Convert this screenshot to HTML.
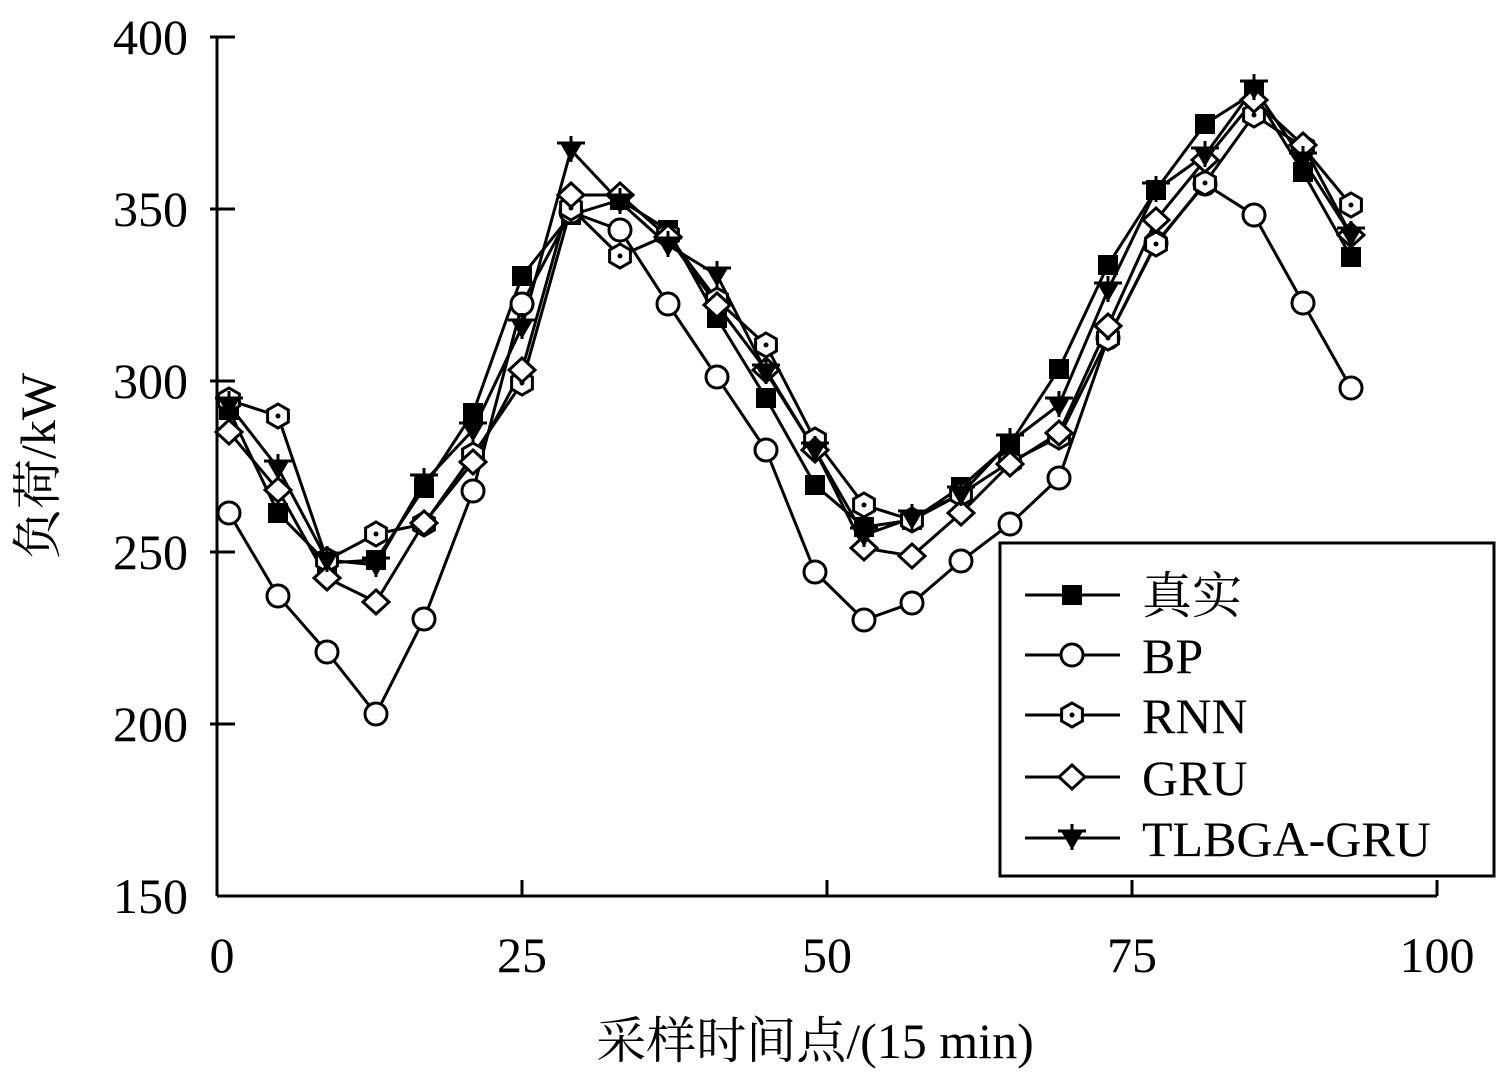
<!DOCTYPE html>
<html><head><meta charset="utf-8"><style>body{margin:0;background:#fff}svg{display:block}</style></head><body>
<svg width="1500" height="1079" viewBox="0 0 1500 1079" xmlns="http://www.w3.org/2000/svg" font-family="'Liberation Serif','Noto Serif CJK SC',serif">
<defs>
<g id="sq"><rect x="-10" y="-10" width="20" height="20" fill="#000"/></g>
<g id="ci"><circle r="11" fill="#fff" stroke="#000" stroke-width="3"/></g>
<g id="hx"><polygon points="0,-12 10.4,-6 10.4,6 0,12 -10.4,6 -10.4,-6" fill="#fff" stroke="#000" stroke-width="3"/><circle r="2.5" fill="#000"/></g>
<g id="dm"><polygon points="0,-12 13,0 0,12 -13,0" fill="#fff" stroke="#000" stroke-width="3"/></g>
<g id="tr"><polygon points="-11,-7 11,-7 0,12" fill="#000"/><line x1="-14" y1="-7" x2="14" y2="-7" stroke="#000" stroke-width="3"/><line x1="0" y1="-14" x2="0" y2="12" stroke="#000" stroke-width="3"/></g>
</defs>
<g stroke="#000" stroke-width="3" fill="none">
<line x1="217" y1="37" x2="217" y2="896"/><line x1="217" y1="896" x2="1437" y2="896"/>
<line x1="210" y1="37" x2="235" y2="37"/><line x1="210" y1="209" x2="235" y2="209"/><line x1="210" y1="381" x2="235" y2="381"/><line x1="210" y1="552" x2="235" y2="552"/><line x1="210" y1="724" x2="235" y2="724"/>
<line x1="522" y1="896" x2="522" y2="880"/><line x1="827" y1="896" x2="827" y2="880"/><line x1="1132" y1="896" x2="1132" y2="880"/><line x1="1437" y1="896" x2="1437" y2="880"/>
</g>
<g font-size="50" text-anchor="end" fill="#000">
<text x="188" y="54">400</text><text x="188" y="226">350</text><text x="188" y="398">300</text><text x="188" y="569">250</text><text x="188" y="741">200</text><text x="188" y="913">150</text>
</g>
<g font-size="50" text-anchor="middle" fill="#000">
<text x="222" y="972">0</text><text x="522" y="972">25</text><text x="827" y="972">50</text><text x="1132" y="972">75</text><text x="1437" y="972">100</text>
<text x="815" y="1058">采样时间点/(15 min)</text>
</g>
<text transform="translate(55,466) rotate(-90)" font-size="50" text-anchor="middle">负荷/kW</text>
<g stroke="#000" stroke-width="3" fill="none">
<polyline points="229,410 278,513 327,563 376,560 424,488 473,413 522,276 571,215 620,200 668,230 717,318 766,398 815,485 864,527 912,520 961,487 1010,444 1059,369 1108,265 1156,190 1205,124 1254,93 1303,172 1351,257"/>
<polyline points="229,513 278,596 327,652 376,714 424,619 473,491 522,304 571,212 620,230 668,304 717,377 766,450 815,572 864,620 912,603 961,561 1010,524 1059,478 1108,338 1156,243 1205,184 1254,215 1303,303 1351,388"/>
<polyline points="229,400 278,416 327,560 376,534 424,524 473,455 522,383 571,208 620,256 668,235 717,300 766,345 815,440 864,505 912,520 961,494 1010,462 1059,437 1108,338 1156,244 1205,183 1254,115 1303,147 1351,205"/>
<polyline points="229,432 278,490 327,578 376,602 424,523 473,462 522,370 571,195 620,195 668,237 717,305 766,370 815,450 864,548 912,556 961,513 1010,464 1059,433 1108,326 1156,220 1205,160 1254,100 1303,145 1351,235"/>
<polyline points="229,405 278,468 327,560 376,565 424,482 473,430 522,327 571,150 620,202 668,245 717,275 766,372 815,450 864,535 912,518 961,494 1010,442 1059,405 1108,290 1156,190 1205,155 1254,88 1303,160 1351,235"/>
</g>
<g>
<use href="#sq" x="229" y="410"/><use href="#sq" x="278" y="513"/><use href="#sq" x="327" y="563"/><use href="#sq" x="376" y="560"/><use href="#sq" x="424" y="488"/><use href="#sq" x="473" y="413"/><use href="#sq" x="522" y="276"/><use href="#sq" x="571" y="215"/><use href="#sq" x="620" y="200"/><use href="#sq" x="668" y="230"/><use href="#sq" x="717" y="318"/><use href="#sq" x="766" y="398"/><use href="#sq" x="815" y="485"/><use href="#sq" x="864" y="527"/><use href="#sq" x="912" y="520"/><use href="#sq" x="961" y="487"/><use href="#sq" x="1010" y="444"/><use href="#sq" x="1059" y="369"/><use href="#sq" x="1108" y="265"/><use href="#sq" x="1156" y="190"/><use href="#sq" x="1205" y="124"/><use href="#sq" x="1254" y="93"/><use href="#sq" x="1303" y="172"/><use href="#sq" x="1351" y="257"/>
<use href="#ci" x="229" y="513"/><use href="#ci" x="278" y="596"/><use href="#ci" x="327" y="652"/><use href="#ci" x="376" y="714"/><use href="#ci" x="424" y="619"/><use href="#ci" x="473" y="491"/><use href="#ci" x="522" y="304"/><use href="#ci" x="571" y="212"/><use href="#ci" x="620" y="230"/><use href="#ci" x="668" y="304"/><use href="#ci" x="717" y="377"/><use href="#ci" x="766" y="450"/><use href="#ci" x="815" y="572"/><use href="#ci" x="864" y="620"/><use href="#ci" x="912" y="603"/><use href="#ci" x="961" y="561"/><use href="#ci" x="1010" y="524"/><use href="#ci" x="1059" y="478"/><use href="#ci" x="1108" y="338"/><use href="#ci" x="1156" y="243"/><use href="#ci" x="1205" y="184"/><use href="#ci" x="1254" y="215"/><use href="#ci" x="1303" y="303"/><use href="#ci" x="1351" y="388"/>
<use href="#hx" x="229" y="400"/><use href="#hx" x="278" y="416"/><use href="#hx" x="327" y="560"/><use href="#hx" x="376" y="534"/><use href="#hx" x="424" y="524"/><use href="#hx" x="473" y="455"/><use href="#hx" x="522" y="383"/><use href="#hx" x="571" y="208"/><use href="#hx" x="620" y="256"/><use href="#hx" x="668" y="235"/><use href="#hx" x="717" y="300"/><use href="#hx" x="766" y="345"/><use href="#hx" x="815" y="440"/><use href="#hx" x="864" y="505"/><use href="#hx" x="912" y="520"/><use href="#hx" x="961" y="494"/><use href="#hx" x="1010" y="462"/><use href="#hx" x="1059" y="437"/><use href="#hx" x="1108" y="338"/><use href="#hx" x="1156" y="244"/><use href="#hx" x="1205" y="183"/><use href="#hx" x="1254" y="115"/><use href="#hx" x="1303" y="147"/><use href="#hx" x="1351" y="205"/>
<use href="#dm" x="229" y="432"/><use href="#dm" x="278" y="490"/><use href="#dm" x="327" y="578"/><use href="#dm" x="376" y="602"/><use href="#dm" x="424" y="523"/><use href="#dm" x="473" y="462"/><use href="#dm" x="522" y="370"/><use href="#dm" x="571" y="195"/><use href="#dm" x="620" y="195"/><use href="#dm" x="668" y="237"/><use href="#dm" x="717" y="305"/><use href="#dm" x="766" y="370"/><use href="#dm" x="815" y="450"/><use href="#dm" x="864" y="548"/><use href="#dm" x="912" y="556"/><use href="#dm" x="961" y="513"/><use href="#dm" x="1010" y="464"/><use href="#dm" x="1059" y="433"/><use href="#dm" x="1108" y="326"/><use href="#dm" x="1156" y="220"/><use href="#dm" x="1205" y="160"/><use href="#dm" x="1254" y="100"/><use href="#dm" x="1303" y="145"/><use href="#dm" x="1351" y="235"/>
<use href="#tr" x="229" y="405"/><use href="#tr" x="278" y="468"/><use href="#tr" x="327" y="560"/><use href="#tr" x="376" y="565"/><use href="#tr" x="424" y="482"/><use href="#tr" x="473" y="430"/><use href="#tr" x="522" y="327"/><use href="#tr" x="571" y="150"/><use href="#tr" x="620" y="202"/><use href="#tr" x="668" y="245"/><use href="#tr" x="717" y="275"/><use href="#tr" x="766" y="372"/><use href="#tr" x="815" y="450"/><use href="#tr" x="864" y="535"/><use href="#tr" x="912" y="518"/><use href="#tr" x="961" y="494"/><use href="#tr" x="1010" y="442"/><use href="#tr" x="1059" y="405"/><use href="#tr" x="1108" y="290"/><use href="#tr" x="1156" y="190"/><use href="#tr" x="1205" y="155"/><use href="#tr" x="1254" y="88"/><use href="#tr" x="1303" y="160"/><use href="#tr" x="1351" y="235"/>
</g>
<rect x="1000" y="543" width="494" height="333" fill="#fff" stroke="#000" stroke-width="3"/>
<g stroke="#000" stroke-width="3">
<line x1="1025" y1="595" x2="1120" y2="595"/><line x1="1025" y1="655" x2="1120" y2="655"/><line x1="1025" y1="715" x2="1120" y2="715"/><line x1="1025" y1="777" x2="1120" y2="777"/><line x1="1025" y1="838" x2="1120" y2="838"/>
</g>
<use href="#sq" x="1072" y="595"/><use href="#ci" x="1072" y="655"/><use href="#hx" x="1072" y="715"/><use href="#dm" x="1072" y="777"/><use href="#tr" x="1072" y="838"/>
<g font-size="50" fill="#000">
<text x="1142" y="613">真实</text><text x="1142" y="673">BP</text><text x="1142" y="733">RNN</text><text x="1142" y="795">GRU</text><text x="1142" y="856">TLBGA-GRU</text>
</g>
</svg>
</body></html>
